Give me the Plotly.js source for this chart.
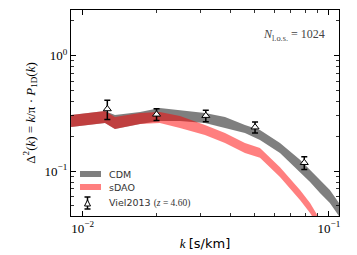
<!DOCTYPE html>
<html>
<head>
<meta charset="utf-8">
<script src="https://cdn.plot.ly/plotly-3.0.1.min.js"></script>
<style>html,body{margin:0;padding:0;background:#fff}#chart{width:357px;height:255px}</style>
</head>
<body>
<div id="chart"></div>
<script>
// CDM band (k in s/km)
const kCdm = [0.00897, 0.01071, 0.01232, 0.01352, 0.0171, 0.02057, 0.02483, 0.03137, 0.03784, 0.0456, 0.05248, 0.06329, 0.07631, 0.08384, 0.09198, 0.1009, 0.1099];
const cdmHi = [0.306, 0.319, 0.331, 0.306, 0.325, 0.352, 0.338, 0.319, 0.294, 0.251, 0.227, 0.175, 0.125, 0.102, 0.0836, 0.0684, 0.0528];
const cdmLo = [0.241, 0.251, 0.261, 0.231, 0.256, 0.272, 0.272, 0.261, 0.236, 0.214, 0.186, 0.143, 0.098, 0.0803, 0.0644, 0.0528, 0.0407];
// sDAO band
const kSdao = [0.00897, 0.01071, 0.01232, 0.01352, 0.0171, 0.02057, 0.02483, 0.03137, 0.03784, 0.0456, 0.05248, 0.06329, 0.07631, 0.08384, 0.0902];
const sdaoHi = [0.306, 0.319, 0.331, 0.294, 0.319, 0.325, 0.300, 0.251, 0.214, 0.175, 0.158, 0.108, 0.0684, 0.0528, 0.0407];
const sdaoLo = [0.241, 0.251, 0.261, 0.231, 0.256, 0.261, 0.236, 0.205, 0.175, 0.143, 0.130, 0.0887, 0.0561, 0.0432, 0.034];
// Viel2013 data
const kViel = [0.01259, 0.01995, 0.03162, 0.05012, 0.07943];
const dViel = [0.345, 0.310, 0.302, 0.240, 0.118];
const eViel = [0.065, 0.036, 0.035, 0.026, 0.015];

const xTickVals = [0.01, 0.1];
const xTickText = ['10<sup>−2</sup>', '10<sup>−1</sup>'];
const yTickVals = [0.1, 1];
const yTickText = ['10<sup>−1</sup>', '10<sup>0</sup>'];
const legendNames = ['CDM', 'sDAO', 'Viel2013 <span style="font-family:\'Liberation Serif\'">(<i>z</i> = 4.60)</span>'];

function band(k, hi, lo) {
  return {
    x: k.concat(k.slice().reverse()),
    y: hi.concat(lo.slice().reverse())
  };
}
const bc = band(kCdm, cdmHi, cdmLo);
const bs = band(kSdao, sdaoHi, sdaoLo);

const serif = "'Liberation Serif', 'DejaVu Serif', serif";
const sans = "'DejaVu Sans', sans-serif";

const traces = [
  {x: bc.x, y: bc.y, type: 'scatter', mode: 'lines', fill: 'toself',
   fillcolor: 'rgba(0,0,0,0.5)', line: {width: 0, color: 'rgba(0,0,0,0)'}, name: 'CDM', hoverinfo: 'skip'},
  {x: bs.x, y: bs.y, type: 'scatter', mode: 'lines', fill: 'toself',
   fillcolor: 'rgba(255,0,0,0.5)', line: {width: 0, color: 'rgba(0,0,0,0)'}, name: 'sDAO', hoverinfo: 'skip'},
  {x: kViel, y: dViel, type: 'scatter', mode: 'markers',
   error_y: {type: 'data', array: eViel, visible: true, color: '#000', thickness: 1.5, width: 3},
   marker: {symbol: 'triangle-up', size: 7, color: '#fff', line: {color: '#000', width: 1}},
   name: 'Viel2013'}
];

const axisCommon = {
  type: 'log', showline: true, linecolor: '#000', linewidth: 1.2, mirror: 'allticks',
  ticks: 'inside', ticklen: 5, tickwidth: 1, tickcolor: '#000',
  showgrid: false, zeroline: false,
  minor: {ticks: 'inside', ticklen: 3, tickwidth: 0.8, tickcolor: '#000', dtick: 'D1', showgrid: false},
  tickfont: {family: serif, size: 13, color: '#000'}
};

// manual legend geometry (paper coords)
const PL = 71, PW = 268, PT = 10, PH = 206;
const px = v => (v - PL) / PW;
const py = v => 1 - (v - PT) / PH;

const shapes = [
  {type: 'rect', xref: 'paper', yref: 'paper', x0: px(80), x1: px(101), y0: py(177), y1: py(171),
   fillcolor: 'rgba(0,0,0,0.5)', line: {width: 0}},
  {type: 'rect', xref: 'paper', yref: 'paper', x0: px(80), x1: px(101), y0: py(190), y1: py(184),
   fillcolor: 'rgba(255,0,0,0.5)', line: {width: 0}},
  {type: 'line', xref: 'paper', yref: 'paper', x0: px(87.5), x1: px(87.5), y0: py(197), y1: py(209),
   line: {color: '#000', width: 1.5}},
  {type: 'line', xref: 'paper', yref: 'paper', x0: px(84.5), x1: px(90.5), y0: py(197), y1: py(197),
   line: {color: '#000', width: 1.5}},
  {type: 'line', xref: 'paper', yref: 'paper', x0: px(84.5), x1: px(90.5), y0: py(209), y1: py(209),
   line: {color: '#000', width: 1.5}},
  {type: 'path', xref: 'paper', yref: 'paper',
   path: 'M' + px(84.5) + ',' + py(206) + ' L' + px(90.5) + ',' + py(206) + ' L' + px(87.5) + ',' + py(200) + ' Z',
   fillcolor: '#fff', line: {color: '#000', width: 1}}
];

const legendY = [174, 187, 203];
const annotations = legendNames.map((t, i) => ({
  xref: 'paper', yref: 'paper', x: px(107), y: py(legendY[i]), xanchor: 'left', yanchor: 'middle',
  text: t, showarrow: false, font: {family: sans, size: 9.5, color: '#333'}
}));
annotations.push({
  xref: 'paper', yref: 'paper', x: 0.955, y: 0.88, xanchor: 'right', yanchor: 'middle',
  text: '<i>N</i><sub>l.o.s.</sub> = 1024', showarrow: false,
  font: {family: serif, size: 12, color: '#444'}
});

const layout = {
  width: 357, height: 255,
  margin: {l: 71, r: 18, t: 10, b: 39},
  paper_bgcolor: '#fff', plot_bgcolor: '#fff',
  showlegend: false,
  xaxis: Object.assign({}, axisCommon, {
    range: [-2.0475, -0.959], tickmode: 'array', tickvals: xTickVals, ticktext: xTickText,
    title: {text: '<i>k</i> <span style="font-family:\'DejaVu Sans\'">[s/km]</span>', font: {family: serif, size: 13, color: '#000'}, standoff: 4}
  }),
  yaxis: Object.assign({}, axisCommon, {
    range: [-1.39, 0.396], tickmode: 'array', tickvals: yTickVals, ticktext: yTickText,
    title: {text: 'Δ<sup>2</sup>(<i>k</i>) = <i>k</i>/π · <i>P</i><sub>1D</sub>(<i>k</i>)', font: {family: serif, size: 13, color: '#000'}, standoff: 6}
  }),
  shapes: shapes,
  annotations: annotations
};

Plotly.newPlot('chart', traces, layout, {displayModeBar: false, staticPlot: true});
</script>
</body>
</html>
